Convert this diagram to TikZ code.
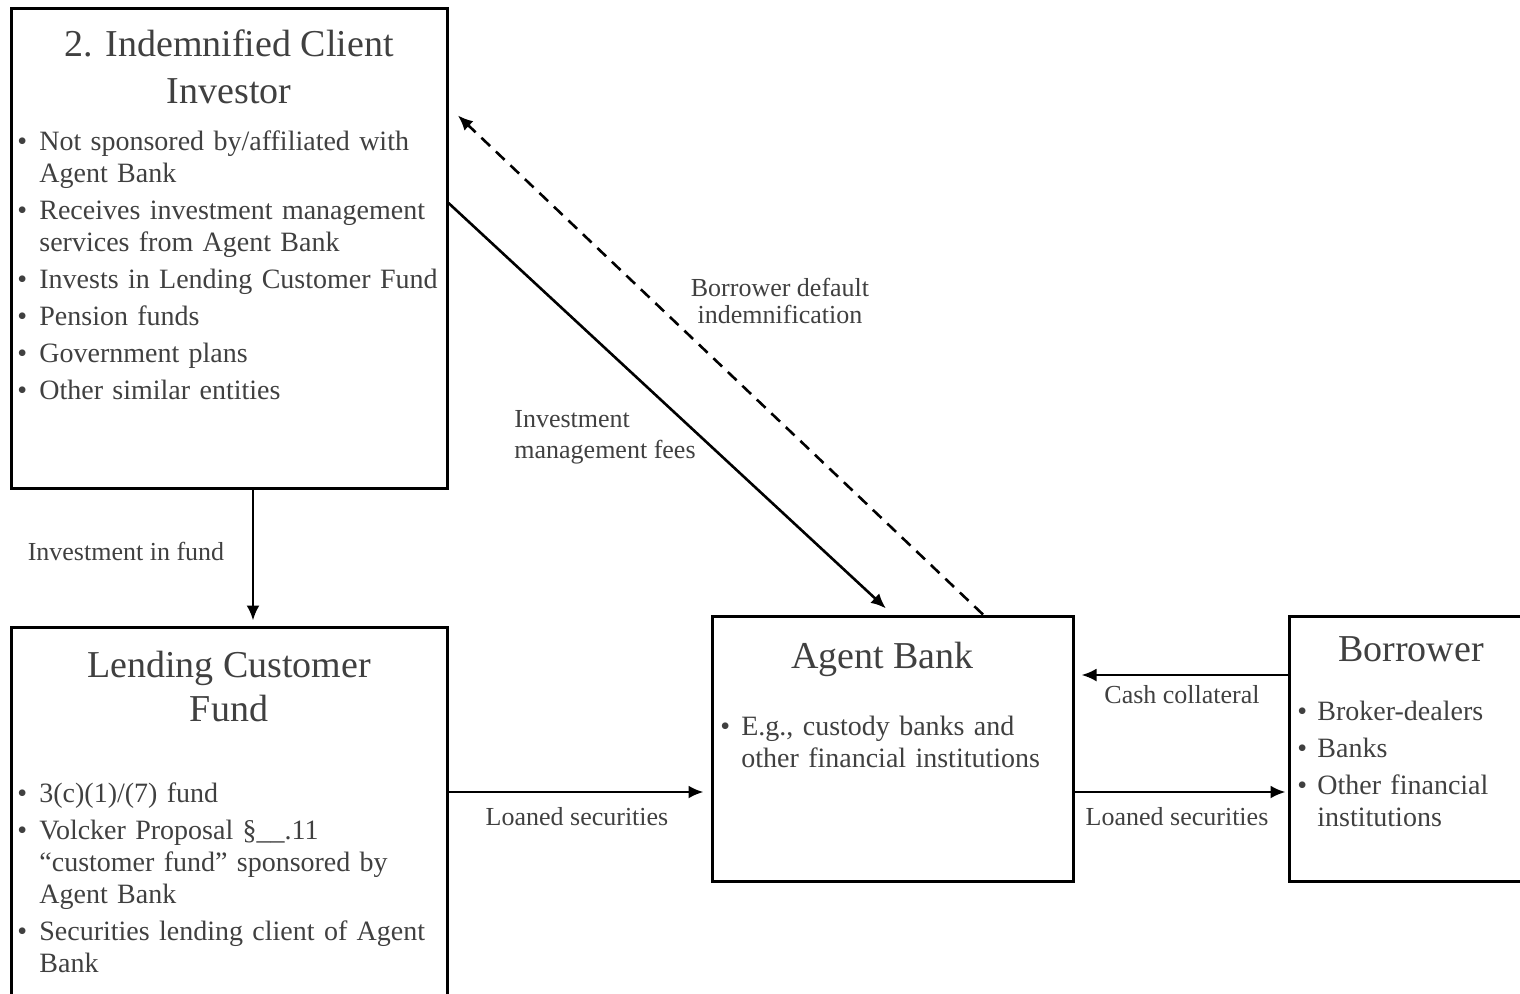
\documentclass[tikz,border=0pt]{standalone}
\usepackage{fontspec}
\setmainfont{Liberation Serif}
\usepackage{tikz}
\usetikzlibrary{arrows.meta}
\definecolor{txtgray}{HTML}{404040}

\newlength\hangw
\setlength\hangw{11pt}
\newcommand\bitem[1]{\par\hangindent=\hangw\hangafter=1\noindent\makebox[\hangw][l]{\textbullet}#1}

\tikzset{
  party/.style={draw, line width=1.5pt, inner sep=0pt},
  title/.style={text=txtgray, font=\fontsize{19}{22.5}\selectfont, align=center, inner sep=0pt, anchor=north},
  items/.style={text=txtgray, font=\fontsize{14}{16}\selectfont\raggedright\setlength{\parskip}{2.5pt}, text width=#1, inner sep=0pt, anchor=north west},
  flow/.style={text=txtgray, font=\fontsize{13}{15}\selectfont, inner sep=0pt, align=center},
}

\begin{document}
\begin{tikzpicture}[x=0.5pt, y=-0.5pt]
    \clip (0,0) rectangle (1520,993);
    % boxes
    \node[party, minimum width=218pt, minimum height=240pt] (client) at (229,248) {};
    \node[party, minimum width=218pt, minimum height=200pt] (fund) at (229,827) {};
    \node[party, minimum width=180.5pt, minimum height=132.5pt] (agent) at (892.5,748.5) {};
    \node[party, minimum width=125.5pt, minimum height=132.5pt] (borrower) at (1414.5,748.5) {};

    % titles
    \node[title, font=\fontsize{19}{23.5}\selectfont] (client title) at (229,29) {2. Indemnified Client\\Investor};
    \node[title, font=\fontsize{19}{22}\selectfont] (fund title) at (229,651) {Lending Customer\\Fund};
    \node[title] (agent title) at (882.5,642) {Agent Bank};
    \node[title] (borrower title) at (1411,636) {Borrower};

    % lists
    \node[items=217pt] (client list) at (17,113) {%
      \bitem{Not sponsored by/affiliated with\newline Agent Bank}
      \bitem{Receives investment management\newline services from Agent Bank}
      \bitem{Invests in Lending Customer Fund}
      \bitem{Pension funds}
      \bitem{Government plans}
      \bitem{Other similar entities}\par};
    \node[items=217pt] (fund list) at (17,765) {%
      \bitem{3(c)(1)/(7) fund}
      \bitem{Volcker Proposal \S\_\_.11\newline ``customer fund'' sponsored by\newline Agent Bank}
      \bitem{Securities lending client of Agent\newline Bank}\par};
    \node[items=172pt] (agent list) at (720,698) {\setlength\hangw{10.5pt}%
      \bitem{E.g., custody banks and\newline other financial institutions}\par};
    \node[items=117pt] (borrower list) at (1297,683) {\setlength\hangw{10pt}%
      \bitem{Broker-dealers}
      \bitem{Banks}
      \bitem{Other financial\newline institutions}\par};

    % connector labels
    \node[flow] (invest label) at (126,551) {Investment in fund};
    \node[flow, anchor=north west, align=left, font=\fontsize{13}{15.5}\selectfont] (fee label) at (514,410) {Investment\\management fees};
    \node[flow, anchor=north, font=\fontsize{13}{13.5}\selectfont] (indem label) at (780,278) {Borrower default\\indemnification};
    \node[flow] (cash label) at (1182,695) {Cash collateral};
    \node[flow] (loan label) at (577,817) {Loaned securities};
    \node[flow] (relend label) at (1177,817) {Loaned securities};

    % connectors
    \path[-{Latex[length=7.5pt, width=6.5pt]}, line width=1.3pt]
      ([xshift=12pt]client.south) edge[shorten >=2.5pt] ([xshift=12pt]fund.north)
      ([yshift=22.5pt]client.east) edge[shorten >=4.5pt] (agent.north)
      ([xshift=45.25pt]agent.north) edge[dash pattern=on 6pt off 4pt, shorten >=6.5pt] ([yshift=70.75pt]client.east)
      ([yshift=17.5pt]fund.east) edge[shorten >=3.5pt] ([yshift=-21.75pt]agent.west)
      ([yshift=36.75pt]borrower.west) edge[shorten >=3.5pt] ([yshift=36.75pt]agent.east)
      ([yshift=-21.75pt]agent.east) edge[shorten >=1pt] ([yshift=-21.75pt]borrower.west);
\end{tikzpicture}
\end{document}
